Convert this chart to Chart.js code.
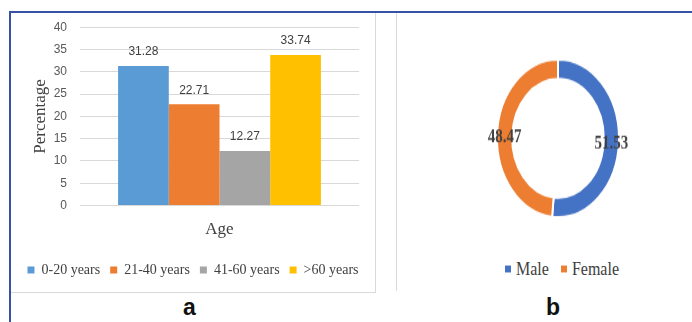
<!DOCTYPE html>
<html>
<head>
<meta charset="utf-8">
<script src="https://cdn.jsdelivr.net/npm/chart.js@4.4.1/dist/chart.umd.min.js"></script>
<style>
  html, body { margin: 0; padding: 0; background: #fff; }
  body { width: 692px; height: 322px; position: relative; overflow: hidden; }
  #frameTop { position: absolute; left: 9px; top: 11px; width: 683px; height: 2px; background: #3552a6; }
  #frameLeft { position: absolute; left: 9px; top: 11px; width: 2px; height: 311px; background: #3552a6; }
  #panelA { position: absolute; left: 10px; top: 12px; width: 364px; height: 279px; border: 1px solid #d9d9d9; }
  #panelA canvas { position: absolute; left: 0; top: -6px; }
  #panelB { position: absolute; left: 396px; top: 12px; width: 300px; height: 279px; border-left: 1px solid #d9d9d9; }
  #donutWrap { position: absolute; left: 458px; top: 58px; width: 200px; height: 124px; transform: scaleY(1.295); transform-origin: top left; }
  #donutLegend { position: absolute; left: 458px; top: 260px; width: 200px; text-align: center;
    font-family: "Liberation Serif", serif; font-size: 16px; color: #404040; transform: scaleY(1.15); }
  #donutLegend span.box { display: inline-block; width: 6px; height: 6px; margin: 0 5px 2px 8px; vertical-align: middle; }
  .tag { position: absolute; font-family: "Liberation Sans", Arial, sans-serif; font-weight: bold; font-size: 23px; color: #111; }
</style>
</head>
<body>
<div id="panelA"><canvas id="barChart" width="364" height="285"></canvas></div>
<div id="panelB"></div>
<div id="donutWrap"><canvas id="donutChart" width="200" height="124"></canvas></div>
<div id="donutLegend"></div>
<div id="frameTop"></div>
<div id="frameLeft"></div>
<div class="tag" style="left:183px; top:294px;">a</div>
<div class="tag" style="left:546px; top:294px;">b</div>

<script>
const ageGroups = ["0-20 years", "21-40 years", "41-60 years", ">60 years"];
const agePercent = [31.28, 22.71, 12.27, 33.74];
const ageColors = ["#5b9bd5", "#ed7d31", "#a5a5a5", "#ffc000"];

const genders = ["Male", "Female"];
const genderPercent = [51.53, 48.47];
const genderColors = ["#4472c4", "#ed7d31"];

const yTicks = [0, 5, 10, 15, 20, 25, 30, 35, 40];

// value labels above bars
const barValueLabels = {
  id: "barValueLabels",
  afterDatasetsDraw(chart) {
    const ctx = chart.ctx;
    ctx.save();
    ctx.font = "12px 'Liberation Sans', Arial, sans-serif";
    ctx.fillStyle = "#404040";
    ctx.textAlign = "center";
    ctx.textBaseline = "middle";
    chart.data.datasets.forEach((ds, i) => {
      chart.getDatasetMeta(i).data.forEach((bar, j) => {
        ctx.fillText(ds.data[j].toFixed(2), bar.x, bar.y - 14);
      });
    });
    ctx.restore();
  }
};

// value labels on the ring
const ringValueLabels = {
  id: "ringValueLabels",
  afterDatasetsDraw(chart) {
    const ctx = chart.ctx;
    ctx.save();
    ctx.font = "bold 15px 'Liberation Serif', serif";
    ctx.fillStyle = "#404040";
    ctx.textAlign = "center";
    ctx.textBaseline = "middle";
    const ds = chart.data.datasets[0];
    chart.getDatasetMeta(0).data.forEach((arc, j) => {
      const p = arc.tooltipPosition();
      ctx.fillText(ds.data[j].toFixed(2), p.x, p.y + 2);
    });
    ctx.restore();
  }
};

new Chart(document.getElementById("barChart"), {
  type: "bar",
  data: {
    labels: [""],
    datasets: ageGroups.map((g, i) => ({
      label: g,
      data: [agePercent[i]],
      backgroundColor: ageColors[i],
      categoryPercentage: 0.727,
      barPercentage: 1
    }))
  },
  options: {
    responsive: false,
    animation: false,
    layout: { padding: { top: 0, right: 0, bottom: 5, left: 0 } },
    plugins: {
      legend: {
        position: "bottom",
        labels: {
          boxWidth: 7,
          boxHeight: 7,
          padding: 10,
          color: "#404040",
          font: { family: "'Liberation Serif', serif", size: 14 }
        }
      },
      tooltip: { enabled: false }
    },
    scales: {
      x: {
        grid: { display: false, drawTicks: false },
        border: { display: false },
        ticks: { display: false, padding: 0 },
        title: {
          display: true,
          text: "Age",
          color: "#404040",
          font: { family: "'Liberation Serif', serif", size: 17 },
          padding: { top: 14, bottom: 13 }
        }
      },
      y: {
        min: 0,
        max: 40,
        afterBuildTicks(axis) { axis.ticks = yTicks.map(v => ({ value: v })); },
        afterFit(axis) { axis.width = 69; },
        grid: { color: "#d9d9d9", drawTicks: false },
        border: { display: false },
        ticks: {
          color: "#595959",
          padding: 13,
          font: { family: "'Liberation Sans', Arial, sans-serif", size: 12 }
        },
        title: {
          display: true,
          text: "Percentage",
          color: "#404040",
          font: { family: "'Liberation Serif', serif", size: 17 },
          padding: { top: 19, bottom: 0 }
        }
      },
      // empty right axis only keeps a margin on the right of the plot
      yRight: {
        position: "right",
        display: true,
        grid: { display: false, drawTicks: false },
        border: { display: false },
        ticks: { display: false },
        afterFit(axis) { axis.width = 16; }
      }
    }
  },
  plugins: [barValueLabels]
});

new Chart(document.getElementById("donutChart"), {
  type: "doughnut",
  data: {
    labels: genders,
    datasets: [{
      data: genderPercent,
      backgroundColor: genderColors,
      borderColor: "#ffffff",
      borderWidth: 2
    }]
  },
  options: {
    responsive: false,
    animation: false,
    cutout: "75%",
    plugins: { legend: { display: false }, tooltip: { enabled: false } }
  },
  plugins: [ringValueLabels]
});

document.getElementById("donutLegend").innerHTML = genders.map((g, i) =>
  `<span class="box" style="background:${genderColors[i]}"></span>${g}`
).join(" ");
</script>
</body>
</html>
